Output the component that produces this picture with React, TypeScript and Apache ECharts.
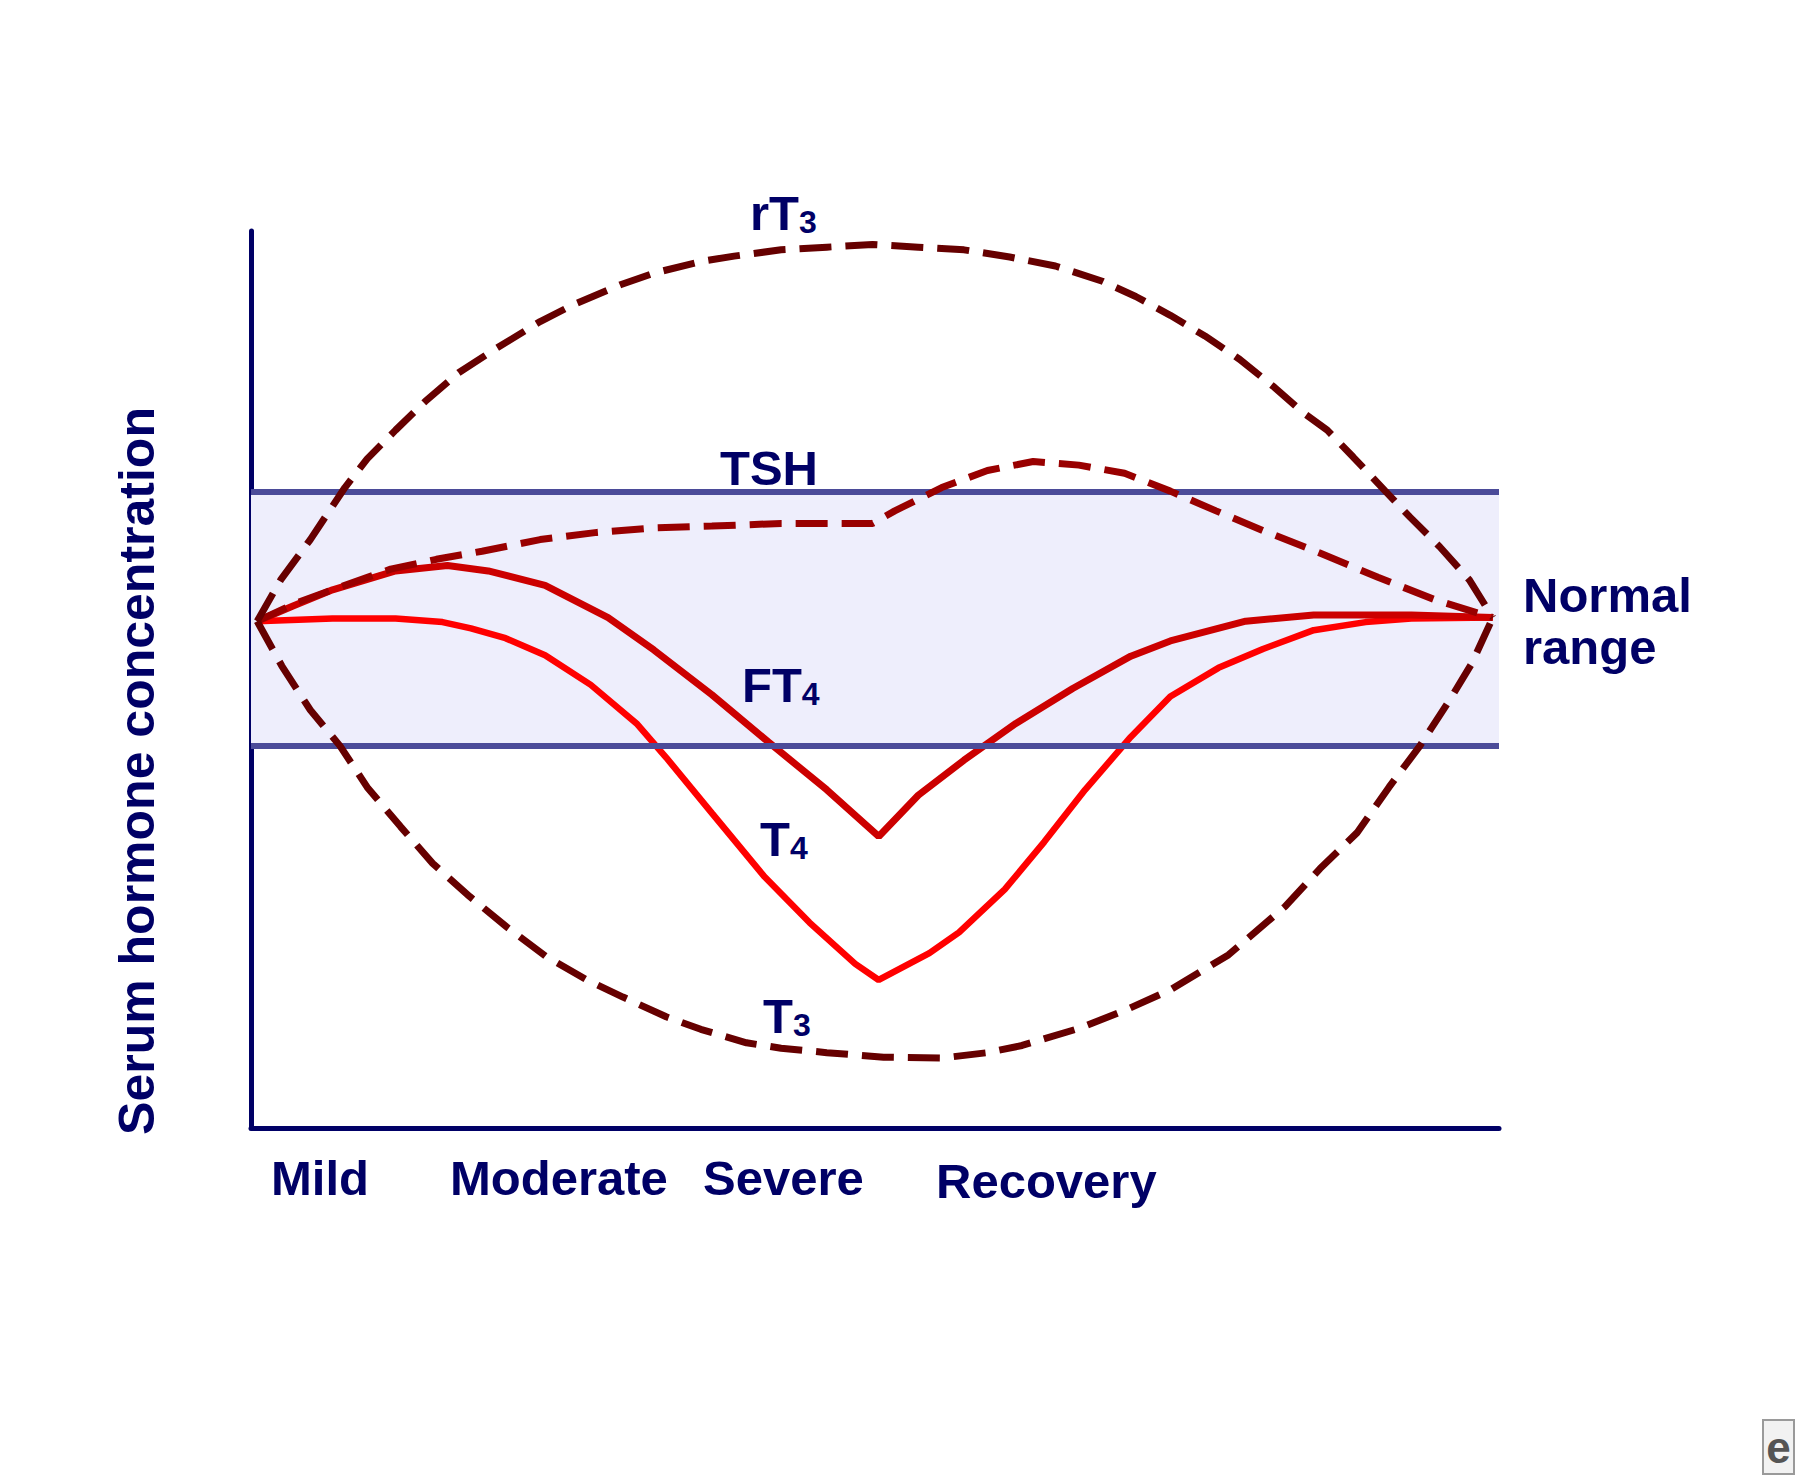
import React, { useEffect, useRef } from "react";
import * as echarts from "echarts";

// ---- Data (x: course of illness 0..100, y: relative serum concentration 0..100) ----
const phases = ["Mild", "Moderate", "Severe", "Recovery"];
const yAxisTitle = "Serum hormone concentration";
const bandLabel = ["Normal", "range"];
const normalRange = [42.6, 70.95];

const rT3: number[][] = [
  [0, 56.5], [1.9, 61.1], [4.3, 65.6], [7.1, 71.4], [8.9, 74.6], [11.2, 77.8],
  [13.6, 81.0], [16.3, 84.2], [19.1, 86.7], [22.9, 89.9], [25.6, 91.8],
  [29.4, 94.0], [32.1, 95.3], [35.9, 96.6], [38.6, 97.2], [42.4, 97.9],
  [46.1, 98.2], [49.8, 98.5], [53.5, 98.2], [57.2, 97.9], [60.9, 97.1],
  [64.6, 96.1], [68.4, 94.4], [71.1, 92.7], [73.9, 90.6], [76.7, 88.3],
  [79.5, 85.7], [82.3, 82.6], [84.6, 79.8], [86.6, 77.8], [88.7, 74.8],
  [91.3, 71.0], [93.3, 68.1], [95.7, 64.8], [98.1, 61.1], [100, 56.9],
];

const T3: number[][] = [
  [0, 56.5], [2.0, 51.5], [4.3, 46.6], [6.7, 42.6], [8.9, 38.0], [11.6, 33.6],
  [14.2, 29.5], [17.2, 25.8], [20.2, 22.4], [23.4, 19.1], [26.7, 16.5],
  [29.6, 14.6], [33.1, 12.4], [35.9, 11.0], [39.6, 9.5], [42.4, 8.9],
  [46.1, 8.4], [50.7, 7.9], [55.4, 7.8], [59.1, 8.4], [61.9, 9.2],
  [66.5, 11.1], [70.2, 13.1], [73.9, 15.4], [78.6, 19.3], [83.2, 24.7],
  [86.0, 28.9], [89.0, 32.9], [91.6, 38.0], [94.1, 42.6], [96.5, 47.7],
  [98.3, 51.8], [100, 56.9],
];

const TSH: number[][] = [
  [0, 56.5], [3.3, 58.6], [7.1, 60.5], [10.8, 62.3], [14.5, 63.4], [18.2, 64.3],
  [22.9, 65.6], [27.5, 66.4], [32.1, 66.9], [36.8, 67.1], [42.4, 67.4],
  [49.8, 67.4], [51.6, 68.8], [55.4, 71.4], [59.1, 73.3], [62.8, 74.3],
  [66.5, 73.9], [70.2, 73.0], [73.9, 71.0], [77.6, 68.8], [81.4, 66.6],
  [86.0, 64.1], [90.7, 61.4], [95.3, 58.9], [100, 56.9],
];

const FT4: number[][] = [
  [0, 56.5], [2.9, 58.2], [6.1, 60.0], [11.2, 62.1], [15.4, 62.7], [18.7, 62.1],
  [23.3, 60.5], [28.4, 56.9], [32.1, 53.3], [36.8, 48.3], [41.4, 43.0],
  [46.1, 37.7], [50.3, 32.5], [53.5, 37.1], [57.2, 41.0], [61.4, 45.1],
  [66.0, 49.0], [70.7, 52.6], [73.9, 54.3], [80.0, 56.5], [85.5, 57.2],
  [93.4, 57.2], [100, 56.9],
];

const T4: number[][] = [
  [0, 56.5], [6.1, 56.8], [11.2, 56.8], [15.0, 56.4], [17.3, 55.7], [20.1, 54.6],
  [23.3, 52.7], [27.0, 49.4], [30.7, 45.1], [33.1, 41.3], [36.8, 35.1],
  [41.0, 28.1], [44.7, 22.9], [48.4, 18.3], [50.3, 16.5], [54.4, 19.5],
  [56.8, 21.8], [60.5, 26.6], [63.7, 31.9], [67.0, 37.7], [70.7, 43.6],
  [73.9, 48.1], [77.8, 51.3], [81.4, 53.4], [85.5, 55.5], [89.7, 56.4],
  [93.4, 56.8], [100, 56.9],
];

const seriesNames = ["T4", "FT4", "TSH", "T3", "rT3"];

const NAVY = "#000066";
const FONT = "'Liberation Sans', Arial, Helvetica, sans-serif";

function subLabel(main: string, sub: string, x: number, y: number) {
  return {
    type: "text",
    x,
    y,
    z: 100,
    silent: true,
    style: {
      text: `{m|${main}}{s|${sub}}`,
      verticalAlign: "middle",
      align: "left",
      rich: {
        m: { fontSize: 49, fontWeight: "bold", fontFamily: FONT, fill: NAVY, verticalAlign: "bottom" },
        s: { fontSize: 32, fontWeight: "bold", fontFamily: FONT, fill: NAVY, verticalAlign: "bottom" },
      },
    },
  };
}

function plainText(text: string, x: number, y: number, size = 49, align = "left") {
  return {
    type: "text",
    x,
    y,
    z: 100,
    silent: true,
    style: {
      text,
      fontSize: size,
      fontWeight: "bold",
      fontFamily: FONT,
      fill: NAVY,
      align,
      verticalAlign: "middle",
    },
  };
}

export default function App() {
  const ref = useRef<HTMLDivElement>(null);

  useEffect(() => {
    if (!ref.current) return;
    const chart = echarts.init(ref.current, undefined, { renderer: "svg" });

    const dashed = (color: string) => ({
      color,
      width: 7,
      type: [32, 14] as any,
      cap: "butt" as const,
    });

    const dataMap: Record<string, number[][]> = { rT3, T3, TSH, FT4, T4 };
    const styleMap: Record<string, any> = {
      T4: { color: "#FF0000", width: 6.5, type: "solid" },
      FT4: { color: "#CC0000", width: 7, type: "solid" },
      TSH: dashed("#990000"),
      T3: dashed("#660000"),
      rT3: dashed("#660000"),
    };

    const option: any = {
      animation: false,
      backgroundColor: "#FFFFFF",
      grid: { left: 251, top: 231, width: 1248, height: 897, containLabel: false },
      xAxis: {
        type: "value",
        min: -0.5,
        max: 100.5,
        axisLine: { show: true, onZero: false, lineStyle: { color: NAVY, width: 5 } },
        axisTick: { show: false },
        axisLabel: { show: false },
        splitLine: { show: false },
      },
      yAxis: {
        type: "value",
        min: 0,
        max: 100,
        axisLine: { show: true, onZero: false, lineStyle: { color: NAVY, width: 5 } },
        axisTick: { show: false },
        axisLabel: { show: false },
        splitLine: { show: false },
      },
      series: [
        {
          name: "Normal range",
          type: "line",
          data: [],
          z: 1,
          silent: true,
          markArea: {
            silent: true,
            itemStyle: { color: "#EEEEFC" },
            data: [[{ yAxis: normalRange[0] }, { yAxis: normalRange[1] }]],
          },
          markLine: {
            silent: true,
            symbol: "none",
            label: { show: false },
            lineStyle: { color: "#4B4B99", width: 6, type: "solid" },
            data: [{ yAxis: normalRange[0] }, { yAxis: normalRange[1] }],
          },
        },
        ...seriesNames.map((n, i) => ({
          name: n,
          type: "line",
          data: dataMap[n],
          symbol: "none",
          z: 3 + i,
          silent: true,
          lineStyle: styleMap[n],
        })),
      ],
      graphic: [
        subLabel("rT", "3", 750, 213),
        plainText("TSH", 720, 468, 49),
        subLabel("FT", "4", 742, 685),
        subLabel("T", "4", 760, 839),
        subLabel("T", "3", 763, 1016),
        plainText(bandLabel[0], 1523, 595, 49),
        plainText(bandLabel[1], 1523, 647, 49),
        plainText(phases[0], 271, 1178, 49),
        plainText(phases[1], 450, 1178, 49),
        plainText(phases[2], 703, 1178, 49),
        plainText(phases[3], 936, 1181, 49),
        {
          type: "text",
          x: 137,
          y: 771,
          z: 100,
          rotation: Math.PI / 2,
          silent: true,
          style: {
            text: yAxisTitle,
            fontSize: 50,
            fontWeight: "bold",
            fontFamily: FONT,
            fill: NAVY,
            align: "center",
            verticalAlign: "middle",
          },
        },
        {
          type: "group",
          x: 1763,
          y: 1420,
          z: 100,
          silent: true,
          children: [
            { type: "rect", z: 100, shape: { x: 0, y: 0, width: 31, height: 54 }, style: { fill: "#F2F2F2", stroke: "#9A9A9A", lineWidth: 2 } },
            {
              type: "text",
              z: 101,
              x: 15.5,
              y: 27,
              style: { text: "e", fontSize: 44, fontWeight: "bold", fontFamily: FONT, fill: "#555555", align: "center", verticalAlign: "middle" },
            },
          ],
        },
      ],
    };

    chart.setOption(option);
    return () => chart.dispose();
  }, []);

  return (
    <div
      ref={ref}
      style={{ position: "absolute", left: 0, top: 0, width: 1800, height: 1476, background: "#FFFFFF" }}
    />
  );
}
